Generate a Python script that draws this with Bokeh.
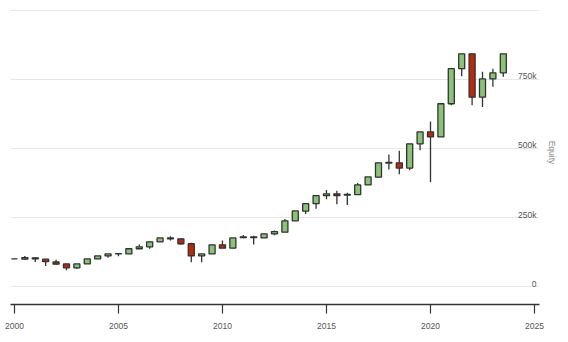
from bokeh.plotting import figure
from bokeh.models import FixedTicker, Range1d, CustomJSTickFormatter, ColumnDataSource
from bokeh.embed import file_html
from bokeh.resources import INLINE
from bokeh.core.properties import value

# Half-year periods (decimal years)
periods = [2000.0, 2000.5, 2001.0, 2001.5, 2002.0, 2002.5, 2003.0, 2003.5,
           2004.0, 2004.5, 2005.0, 2005.5, 2006.0, 2006.5, 2007.0, 2007.5,
           2008.0, 2008.5, 2009.0, 2009.5, 2010.0, 2010.5, 2011.0, 2011.5,
           2012.0, 2012.5, 2013.0, 2013.5, 2014.0, 2014.5, 2015.0, 2015.5,
           2016.0, 2016.5, 2017.0, 2017.5, 2018.0, 2018.5, 2019.0, 2019.5,
           2020.0, 2020.5, 2021.0, 2021.5, 2022.0, 2022.5, 2023.0, 2023.5]

# Equity OHLC in thousands
open_k = [100, 99, 104, 99, 89, 82, 68, 82,
          100, 111, 118, 118, 137, 144, 162, 173,
          173, 155, 111, 118, 151, 139, 177, 177,
          176, 191, 197, 238, 273, 300, 329, 336,
          331, 333, 368, 396, 447, 448, 429, 517,
          560, 542, 662, 789, 843, 686, 752, 774]
high_k = [100.5, 111, 105, 99, 97, 82, 82, 100,
          111, 118, 119, 137, 152, 162, 176, 182,
          173, 159, 118, 151, 167, 176, 187, 184,
          191, 203, 245, 274, 300, 329, 350, 347,
          340, 375, 397, 448, 478, 492, 517, 560,
          598, 662, 789, 843, 843, 778, 789, 843]
low_k = [99.5, 97, 89, 74, 80, 59, 64, 82,
         100, 104, 110, 118, 137, 137, 162, 167,
         151, 88, 88, 118, 139, 139, 175, 152,
         176, 186, 197, 238, 263, 282, 316, 298,
         295, 333, 368, 396, 424, 407, 421, 494,
         378, 542, 657, 762, 657, 650, 724, 760]
close_k = [100, 105, 100, 90, 81, 68, 82, 100,
           111, 118, 119, 137, 144, 162, 176, 176,
           155, 111, 118, 151, 139, 176, 180, 180,
           191, 199, 238, 274, 300, 329, 336, 329,
           334, 368, 397, 448, 450, 429, 517, 560,
           542, 662, 789, 843, 686, 752, 774, 843]

y_ticks = [0, 250, 500, 750, 1000]
y_tick_labels = ["0", "250k", "500k", "750k"]
x_ticks = [2000, 2005, 2010, 2015, 2020, 2025]

GREEN = "#8cc277"
RED = "#b8290e"
EDGE = "#2f3431"

src = ColumnDataSource(dict(
    x=periods,
    o=open_k, h=high_k, l=low_k, c=close_k,
    top=[max(a, b) for a, b in zip(open_k, close_k)],
    bottom=[min(a, b) for a, b in zip(open_k, close_k)],
    color=[GREEN if c >= o else RED for o, c in zip(open_k, close_k)],
))

x_start, x_end = 1999.81, 2025.24
p = figure(width=568, height=342, output_backend="svg", toolbar_location=None,
           x_range=Range1d(x_start, x_end), y_range=Range1d(-65, 1036),
           y_axis_location="right",
           min_border_left=10, min_border_right=29, min_border_top=0, min_border_bottom=38)
p.outline_line_color = None
p.background_fill_color = "white"
p.border_fill_color = "white"

# x axis
xa = p.xaxis[0]
xa.ticker = FixedTicker(ticks=x_ticks)
xa.axis_line_color = "#333333"
xa.axis_line_width = 1.5
xa.major_tick_line_color = "#333333"
xa.major_tick_line_width = 1.2
xa.major_tick_out = 9
xa.major_tick_in = 0
xa.minor_tick_line_color = None
xa.major_label_standoff = 9
xa.major_label_text_font = "Liberation Sans"
xa.major_label_text_font_size = "8.5px"
xa.major_label_text_color = "#555555"

# right y axis: only the title
ya = p.yaxis[0]
ya.ticker = FixedTicker(ticks=y_ticks)
ya.formatter = CustomJSTickFormatter(code="return ''")
ya.axis_line_color = None
ya.major_tick_line_color = None
ya.minor_tick_line_color = None
ya.major_label_text_font_size = "1px"
ya.axis_label = "Equity"
ya.axis_label_text_font = "Liberation Sans"
ya.axis_label_text_font_size = "8.5px"
ya.axis_label_text_font_style = "normal"
ya.axis_label_text_color = "#888888"
ya.axis_label_standoff = 1

p.xgrid.grid_line_color = None
p.ygrid.grid_line_color = "#e6e6e6"
p.ygrid.grid_line_width = 1

# y tick labels inside the plot, right aligned above gridlines
p.text(x=[x_end] * len(y_tick_labels), y=y_ticks[:len(y_tick_labels)], text=y_tick_labels,
       text_align="right", text_baseline="alphabetic", x_offset=-3, y_offset=-3,
       text_font=value("Liberation Sans"), text_font_size="8.5px", text_color="#555555")

# candles
p.segment(x0="x", y0="h", x1="x", y1="l", source=src, line_color=EDGE, line_width=1.3)
p.vbar(x="x", top="top", bottom="bottom", width=0.29, source=src,
       fill_color="color", line_color=EDGE, line_width=1.3)

open("out.html", "w").write(file_html(p, INLINE))
